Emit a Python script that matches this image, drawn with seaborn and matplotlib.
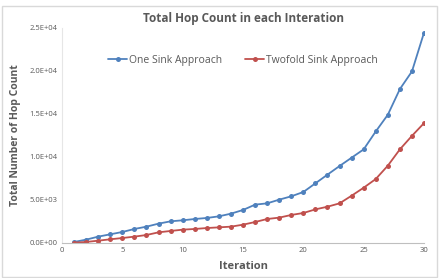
import numpy as np
import pandas as pd
import seaborn as sns
import matplotlib.pyplot as plt
from matplotlib.ticker import FuncFormatter
from matplotlib.patches import Rectangle

# values
iterations = list(range(1, 31))
one_sink = [120, 390, 740, 1010, 1280, 1630, 1900, 2250, 2520, 2640,
            2790, 2910, 3100, 3410, 3840, 4460, 4610, 5040, 5430, 5930,
            6940, 7950, 8950, 9920, 10890, 12970, 14910, 17900, 19950, 24460]
twofold_sink = [40, 120, 270, 430, 580, 740, 930, 1240, 1400, 1550,
                1630, 1740, 1820, 1900, 2130, 2440, 2790, 2950, 3260, 3490,
                3910, 4220, 4610, 5500, 6430, 7440, 8990, 10890, 12460, 13940]
series_names = ["One Sink Approach", "Twofold Sink Approach"]
colors = ["#4F81BD", "#C0504D"]

df = pd.DataFrame({
    "Iteration": iterations * 2,
    "Hops": one_sink + twofold_sink,
    "Series": [series_names[0]] * 30 + [series_names[1]] * 30,
})

sns.set_style("white")
plt.rcParams['font.family'] = ['Open Sans', 'DejaVu Sans']
gray = "#595959"

fig = plt.figure(figsize=(4.41, 2.78), dpi=100)
fig.patches.append(Rectangle((0.004, 0.004), 0.988, 0.975, transform=fig.transFigure,
                             fill=False, edgecolor="#d9d9d9", linewidth=1))
ax = fig.add_axes([0.1406, 0.1259, 0.8209, 0.7734])

sns.lineplot(data=df, x="Iteration", y="Hops", hue="Series", palette=colors,
             marker="o", markersize=3.6, markeredgewidth=0, linewidth=1.3, ax=ax)

ax.set_xlim(0, 30)
ax.set_ylim(0, 25000)
ax.set_xticks(np.arange(0, 31, 5))
ax.set_yticks(np.arange(0, 25001, 5000))
ax.yaxis.set_major_formatter(FuncFormatter(lambda v, p: "%.1E" % v))
ax.tick_params(labelsize=5.5, colors=gray, length=0, pad=3)

for s in ["top", "right"]:
    ax.spines[s].set_visible(False)
ax.spines["bottom"].set_color("#bfbfbf")
ax.spines["left"].set_color("#e6e6e6")
ax.spines["bottom"].set_linewidth(0.8)
ax.spines["left"].set_linewidth(0.8)

ax.set_title("Total Hop Count in each Interation", fontsize=8.5, fontweight="bold",
             color=gray, pad=4)
ax.set_xlabel("Iteration", fontsize=8, fontweight="bold", color=gray, labelpad=5)
ax.set_ylabel("Total Number of Hop Count", fontsize=7.5, fontweight="bold", color=gray, labelpad=6)

ax.legend(loc="center", bbox_to_anchor=(0.5, 0.85), ncol=2, frameon=False,
          fontsize=7.5, labelcolor=gray, handlelength=1.8, columnspacing=2.2,
          handletextpad=0.2)

fig.savefig("out.png", dpi=100)
